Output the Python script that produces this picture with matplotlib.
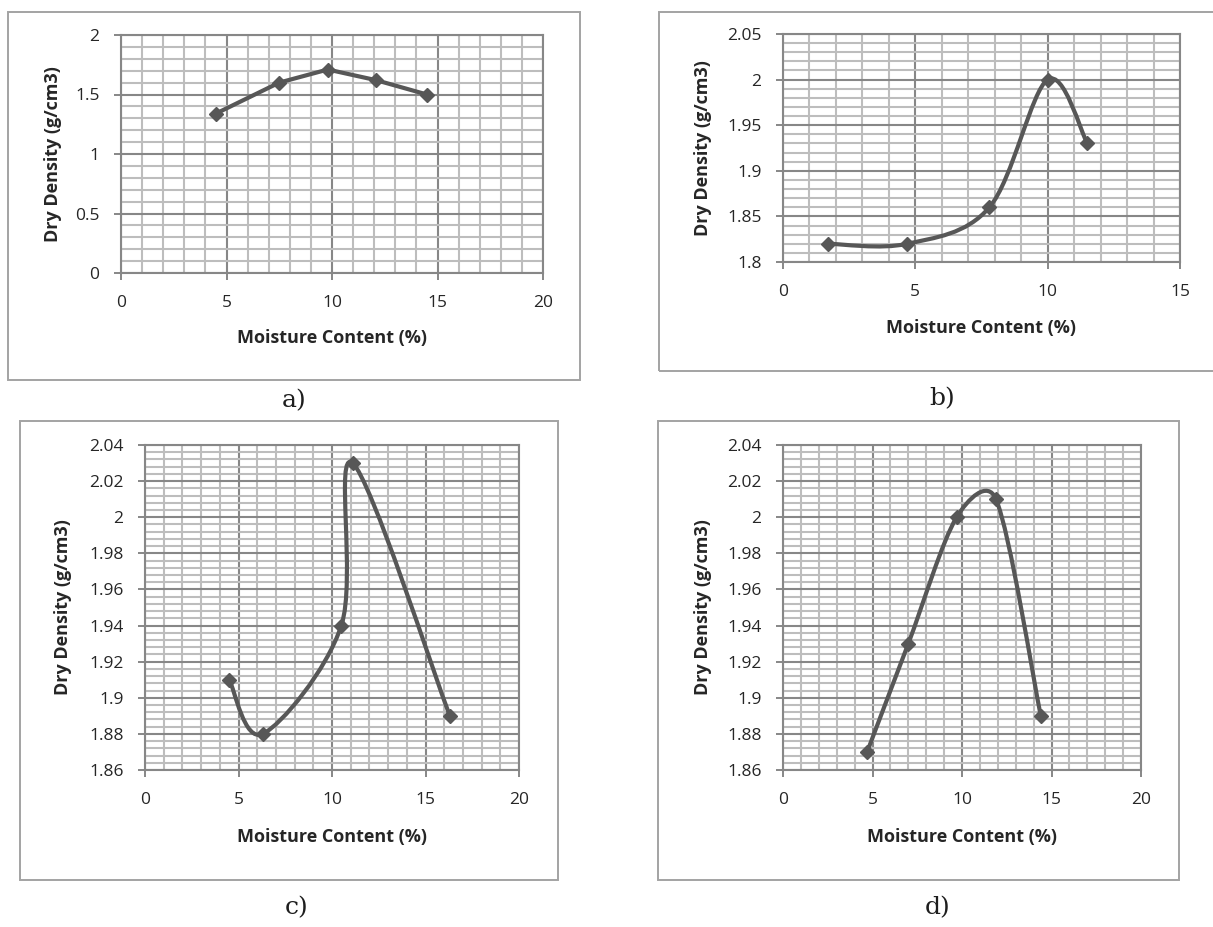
import numpy as np
import matplotlib
matplotlib.use('Agg')
import matplotlib.pyplot as plt
from matplotlib.path import Path
from matplotlib.patches import PathPatch, Rectangle
from matplotlib.ticker import MultipleLocator

# ---- data ----
moisture_a = [4.5, 7.5, 9.8, 12.1, 14.5]
density_a = [1.34, 1.60, 1.71, 1.62, 1.50]
xticks_a = [0, 5, 10, 15, 20]
yticks_a = [0, 0.5, 1, 1.5, 2]

moisture_b = [1.7, 4.7, 7.8, 10.0, 11.5]
density_b = [1.82, 1.82, 1.86, 2.00, 1.93]
xticks_b = [0, 5, 10, 15]
yticks_b = [1.8, 1.85, 1.9, 1.95, 2.0, 2.05]

moisture_c = [4.5, 6.3, 10.5, 11.1, 16.3]
density_c = [1.91, 1.88, 1.94, 2.03, 1.89]
xticks_c = [0, 5, 10, 15, 20]
yticks_c = [1.86, 1.88, 1.9, 1.92, 1.94, 1.96, 1.98, 2.0, 2.02, 2.04]

moisture_d = [4.7, 7.0, 9.7, 11.9, 14.4]
density_d = [1.87, 1.93, 2.00, 2.01, 1.89]
xticks_d = [0, 5, 10, 15, 20]
yticks_d = [1.86, 1.88, 1.9, 1.92, 1.94, 1.96, 1.98, 2.0, 2.02, 2.04]

panel_names = ['a)', 'b)', 'c)', 'd)']

W, H = 1213, 927
LINE = '#575757'
MAJOR = '#878787'
MINOR = '#bdbdbd'
TEXT = '#262626'

plt.rcParams['font.family'] = ['Open Sans', 'DejaVu Sans']

fig = plt.figure(figsize=(W / 100, H / 100), dpi=100)
fig.patch.set_facecolor('white')


def box(x0, y0, x1, y1):
    # pixel box (top-left origin) -> figure fraction [left, bottom, width, height]
    return [x0 / W, 1 - y1 / H, (x1 - x0) / W, (y1 - y0) / H]


def excel_curve(ax, xs, ys):
    # Excel style smoothed line: one cubic Bezier per segment, built in screen space
    pts = ax.transData.transform(np.column_stack([xs, ys]))
    n = len(pts)
    verts = [pts[0]]
    for i in range(n - 1):
        p0 = pts[max(i - 1, 0)]
        p1, p2 = pts[i], pts[i + 1]
        p3 = pts[min(i + 2, n - 1)]
        d12 = np.hypot(*(p2 - p1))
        d02 = np.hypot(*(p2 - p0))
        d13 = np.hypot(*(p3 - p1))
        f0 = 1 / 6 if d02 / 6 < d12 / 2 else d12 / d02 / 2
        f3 = 1 / 6 if d13 / 6 < d12 / 2 else d12 / d13 / 2
        verts += [p1 + f0 * (p2 - p0), p2 - f3 * (p3 - p1), p2]
    verts = ax.transData.inverted().transform(np.array(verts))
    codes = [Path.MOVETO] + [Path.CURVE4] * (3 * (n - 1))
    return PathPatch(Path(verts, codes), fill=False, edgecolor=LINE, lw=3.0,
                     capstyle='round', joinstyle='round', zorder=3)


def fmt(v):
    return f'{round(v, 4):g}'


# axes boxes (pixels), outer frames (pixels), panel label positions (pixels)
axes_px = [(121, 35, 543, 273), (783, 34, 1180, 262),
           (145, 445, 519, 770), (783, 445, 1141, 770)]
frames_px = [(8, 12, 580, 380), (659, 12, 1218, 371),
             (20, 421, 558, 880), (658, 421, 1179, 880)]
name_px = [(294, 401), (942, 399), (297, 908), (938, 908)]
ylabel_right = [62, 712, 72, 712]
xlabel_top = [329, 319, 828, 828]

series = [(moisture_a, density_a, xticks_a, yticks_a, 0.1, False),
          (moisture_b, density_b, xticks_b, yticks_b, 0.01, True),
          (moisture_c, density_c, xticks_c, yticks_c, 0.004, True),
          (moisture_d, density_d, xticks_d, yticks_d, 0.004, True)]

for k, (xs, ys, xt, yt, ystep, smooth) in enumerate(series):
    x0, y0, x1, y1 = axes_px[k]
    ax = fig.add_axes(box(x0, y0, x1, y1))
    ax.set_xlim(xt[0], xt[-1])
    ax.set_ylim(yt[0], yt[-1])
    ax.set_xticks(xt, [fmt(v) for v in xt])
    ax.set_yticks(yt, [fmt(v) for v in yt])
    ax.xaxis.set_minor_locator(MultipleLocator(1))
    ax.yaxis.set_minor_locator(MultipleLocator(ystep))
    ax.grid(which='minor', color=MINOR, lw=1.5, zorder=0)
    ax.grid(which='major', color=MAJOR, lw=1.5, zorder=1)
    ax.set_axisbelow(True)
    ax.tick_params(which='major', direction='out', length=5, width=1.4,
                   color=MAJOR, labelsize=12.5, labelcolor=TEXT, pad=10.5)
    ax.tick_params(which='minor', length=0)
    for sp in ax.spines.values():
        sp.set_color(MAJOR)
        sp.set_linewidth(1.5)

    if smooth:
        ax.add_patch(excel_curve(ax, xs, ys))
    else:
        ax.plot(xs, ys, color=LINE, lw=3.0, zorder=3)
    ax.plot(xs, ys, linestyle='none', marker='D', ms=7.5, color=LINE, zorder=4)

    ax.set_xlabel('Moisture Content (%)', fontsize=13, fontweight='bold', color=TEXT)
    ax.set_ylabel('Dry Density (g/cm3)', fontsize=13, fontweight='bold', color=TEXT)
    ax.xaxis.set_label_coords(0.5, -(xlabel_top[k] - y1) / (y1 - y0))
    ax.yaxis.set_label_coords(-(x0 - ylabel_right[k]) / (x1 - x0), 0.5)

    # outer chart frame
    fx0, fy0, fx1, fy1 = frames_px[k]
    l, b, w, h = box(fx0, fy0, fx1, fy1)
    fig.add_artist(Rectangle((l, b), w, h, transform=fig.transFigure,
                             fill=False, edgecolor='#a3a3a3', lw=1.4))

    nx, ny = name_px[k]
    fig.text(nx / W, 1 - ny / H, panel_names[k], ha='center', va='center',
             fontsize=18, family='DejaVu Serif', color='#1e1e1e')

fig.savefig('out.png', dpi=100, facecolor='white')
